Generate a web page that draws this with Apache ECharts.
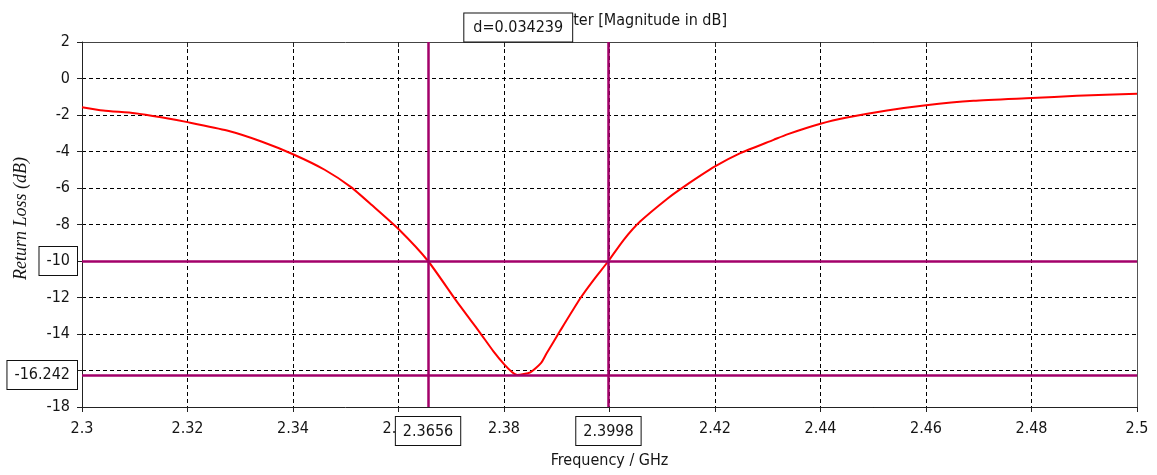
<!DOCTYPE html>
<html>
<head>
<meta charset="utf-8">
<title>S-Parameter [Magnitude in dB]</title>
<script src="https://cdn.jsdelivr.net/npm/echarts@6/dist/echarts.min.js"></script>
<style>
  html, body { margin: 0; padding: 0; background: #ffffff; }
  #chart { width: 1157px; height: 475px; }
</style>
</head>
<body>
<div id="chart"></div>
<script>
// Return loss sweep of the antenna (frequency in GHz, |S11| in dB)
const freqGHz = [
  2.300, 2.304, 2.310, 2.315, 2.320, 2.3275, 2.334, 2.340, 2.346, 2.351,
  2.355, 2.360, 2.3656, 2.371, 2.3737, 2.3755, 2.378, 2.380, 2.3815, 2.3825,
  2.385, 2.387, 2.388, 2.3907, 2.3945, 2.397, 2.3998, 2.4027, 2.4058, 2.4109,
  2.414, 2.420, 2.4248, 2.4311, 2.4337, 2.440, 2.445, 2.4526, 2.460, 2.469,
  2.480, 2.4886, 2.500
];
const returnLossDb = [
  -1.57, -1.75, -1.90, -2.12, -2.39, -2.85, -3.45, -4.15, -5.00, -5.95,
  -6.95, -8.25, -10.00, -12.20, -13.25, -13.95, -14.95, -15.65, -16.08, -16.242,
  -16.10, -15.60, -15.10, -13.80, -12.03, -11.03, -10.00, -8.84, -7.84, -6.60,
  -5.95, -4.82, -4.09, -3.36, -3.06, -2.48, -2.14, -1.75, -1.46, -1.22,
  -1.07, -0.95, -0.84
];

// Axis ticks
const xTickValues = [2.3, 2.32, 2.34, 2.36, 2.38, 2.4, 2.42, 2.44, 2.46, 2.48, 2.5];
const yTickValues = [2, 0, -2, -4, -6, -8, -10, -12, -14, -16, -18];

// Markers: -10 dB band edges and the resonance minimum
const markerFreqs = [2.3656, 2.3998];
const markerLevels = [-10, -16.242];
const markerDelta = 0.034239;

const titleText = 'S-Parameter [Magnitude in dB]';
const xAxisTitle = 'Frequency / GHz';
const yAxisTitle = 'Return Loss (dB)';

const FONT = '"DejaVu Sans Condensed", "DejaVu Sans", sans-serif';
const TEXT = '#151515';
const MARKER = '#a3006a';

const curve = freqGHz.map((f, i) => [f, returnLossDb[i]]);

const boxLabel = {
  show: true,
  fontFamily: FONT,
  fontSize: 16,
  color: TEXT,
  backgroundColor: '#ffffff',
  borderColor: '#111111',
  borderWidth: 1,
  padding: [5, 7, 4, 7],
  lineHeight: 19,
  formatter: p => p.name
};

const chart = echarts.init(document.getElementById('chart'), null, { renderer: 'canvas' });

const option = {
  animation: false,
  backgroundColor: '#ffffff',
  grid: { left: 82, right: 20, top: 42, bottom: 68 },
  xAxis: [
    {
      type: 'value',
      position: 'bottom',
      min: xTickValues[0],
      max: xTickValues[xTickValues.length - 1],
      interval: 0.02,
      axisLine: { onZero: false, lineStyle: { color: '#222222', width: 1 } },
      axisTick: { show: true, length: 5, lineStyle: { color: '#222222' } },
      axisLabel: {
        margin: 14, color: TEXT, fontSize: 16, fontFamily: FONT,
        showMinLabel: true, showMaxLabel: true,
        formatter: v => {
          const t = xTickValues.find(x => Math.abs(x - v) < 1e-6);
          return t === undefined ? '' : String(t);
        }
      },
      splitLine: { show: true, lineStyle: { color: '#000000', width: 1, type: [4, 3] } },
      name: xAxisTitle,
      nameLocation: 'middle',
      nameGap: 46,
      nameTextStyle: { color: TEXT, fontSize: 16, fontFamily: FONT }
    },
    {
      type: 'value',
      position: 'top',
      min: xTickValues[0],
      max: xTickValues[xTickValues.length - 1],
      interval: 0.02,
      axisLine: { onZero: false, lineStyle: { color: '#444444', width: 1 } },
      axisTick: { show: true, inside: true, length: 5, lineStyle: { color: '#222222' } },
      axisLabel: { show: false },
      splitLine: { show: false }
    }
  ],
  yAxis: [
    {
      type: 'value',
      position: 'left',
      min: yTickValues[yTickValues.length - 1],
      max: yTickValues[0],
      interval: 2,
      axisLine: { show: true, onZero: false, lineStyle: { color: '#222222', width: 1 } },
      axisTick: { show: true, length: 5, lineStyle: { color: '#222222' } },
      axisLabel: { margin: 12, color: TEXT, fontSize: 16, fontFamily: FONT },
      splitLine: { show: true, lineStyle: { color: '#000000', width: 1, type: [4, 3] } }
    },
    {
      type: 'value',
      position: 'right',
      min: yTickValues[yTickValues.length - 1],
      max: yTickValues[0],
      interval: 2,
      axisLine: { show: true, onZero: false, lineStyle: { color: '#555555', width: 1 } },
      axisTick: { show: false },
      axisLabel: { show: false },
      splitLine: { show: false }
    }
  ],
  series: [
    {
      type: 'line',
      xAxisIndex: 0,
      yAxisIndex: 0,
      data: curve,
      showSymbol: false,
      symbol: 'none',
      smooth: 0.2,
      lineStyle: { color: '#ff0000', width: 2 },
      z: 3,
      markLine: {
        silent: true,
        symbol: ['none', 'none'],
        animation: false,
        precision: 6,
        lineStyle: { color: MARKER, width: 2.5, type: 'solid' },
        data: [
          ...markerFreqs.map(f => ({
            name: String(f),
            xAxis: f,
            label: Object.assign({}, boxLabel, { position: 'start', distance: 10 })
          })),
          ...markerLevels.map(v => ({
            name: String(v),
            yAxis: v,
            label: Object.assign({}, boxLabel, { position: 'start', distance: 5 })
          }))
        ]
      }
    }
  ]
};

chart.setOption(option);

// Title, rotated y-axis title and the delta readout between the two band-edge markers
const midX = chart.convertToPixel({ xAxisIndex: 0 }, (markerFreqs[0] + markerFreqs[1]) / 2);
const plotTop = chart.convertToPixel({ yAxisIndex: 0 }, yTickValues[0]);
const plotBottom = chart.convertToPixel({ yAxisIndex: 0 }, yTickValues[yTickValues.length - 1]);
const deltaText = 'd=' + markerDelta.toFixed(6);

chart.setOption({
  graphic: [
    {
      type: 'text',
      z: 10,
      style: {
        x: 727, y: 21,
        text: titleText,
        align: 'right', verticalAlign: 'middle',
        font: '16px ' + FONT,
        fill: TEXT
      }
    },
    {
      type: 'text',
      z: 11,
      style: {
        x: midX, y: plotTop - 14.5,
        text: deltaText,
        align: 'center', verticalAlign: 'middle',
        font: '16px ' + FONT,
        fill: TEXT,
        backgroundColor: '#ffffff',
        borderColor: '#111111',
        borderWidth: 1,
        padding: [5, 9, 4, 9],
        lineHeight: 19
      }
    },
    {
      type: 'text',
      z: 10,
      x: 21,
      y: (plotTop + plotBottom) / 2 - 6,
      rotation: Math.PI / 2,
      style: {
        text: yAxisTitle,
        align: 'center', verticalAlign: 'middle',
        font: 'italic 18px "Liberation Serif", "DejaVu Serif", serif',
        fill: TEXT
      }
    }
  ]
});
</script>
</body>
</html>
